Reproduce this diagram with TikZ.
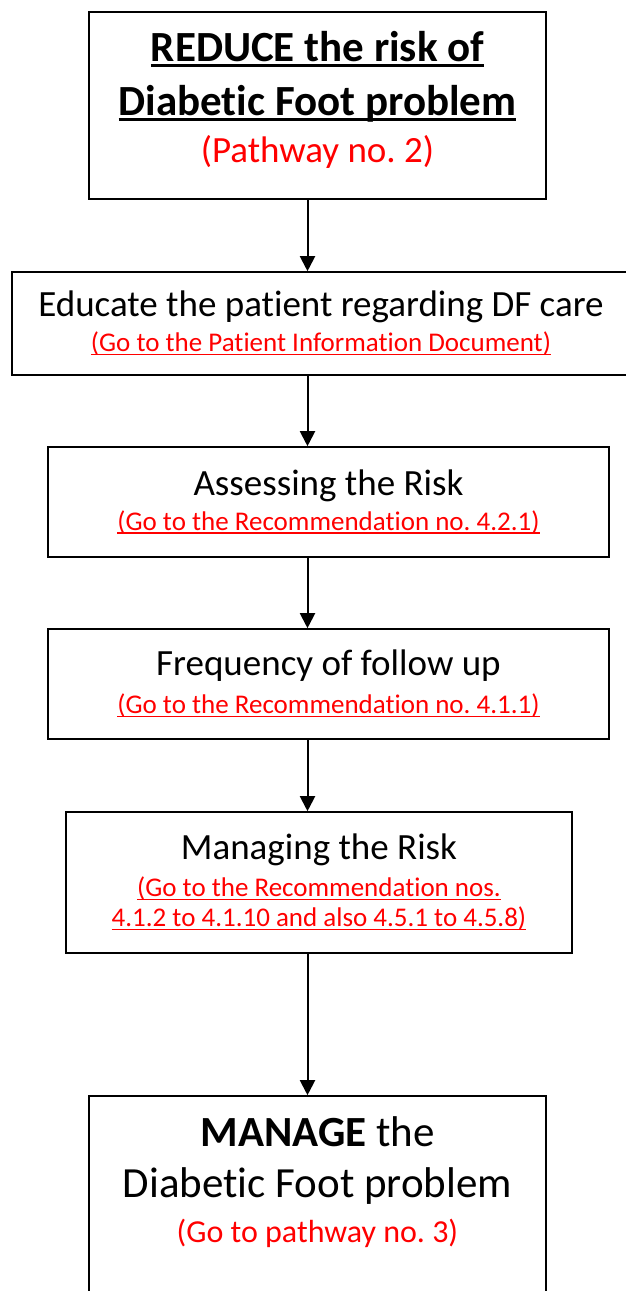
\documentclass[tikz,border=0pt]{standalone}
\usepackage{fontspec}
\setmainfont{Carlito}[Ligatures=NoCommon]
\usetikzlibrary{arrows.meta}

% underline: thickness, depth below baseline, text
\newcommand{\ulbox}[3]{{\setbox0\hbox{#3}\rlap{\rule[-#2]{\wd0}{#1}}\box0}}
\newcommand{\reflink}[1]{{\fontsize{27}{30}\selectfont\color{red}\ulbox{1.8pt}{3.5pt}{#1}}}

\begin{document}
\frenchspacing
\begin{tikzpicture}[x=1pt,y=-1pt]
        \tikzstyle{every path}=[line width=1.6pt]
        \tikzstyle{stepbox} = [draw, rectangle, align=center, inner sep=0pt]
        \tikzstyle{arr} = [-{Triangle[length=15pt,width=15pt]}, line width=2pt]
        \useasboundingbox (0,0) rectangle (625,1291);
        \coordinate (ax) at (307.5,0);
        \node[stepbox, minimum width=457pt, minimum height=187pt,
              font=\fontsize{43}{47}\selectfont](reduce) at (317.5,105.5)
            {\textbf{\ulbox{3pt}{5pt}{REDUCE the risk of}}\\[7pt]
             \textbf{\ulbox{3pt}{5pt}{Diabetic Foot problem}}\\
             {\fontsize{37}{40}\selectfont\color{red}(Pathway no. 2)}\\[-30pt]
             \mbox{}};
        \node[stepbox, minimum width=618pt, minimum height=103pt,
              font=\fontsize{37}{35}\selectfont](educate) at (321,323.5)
            {Educate the patient regarding DF care\\
             \reflink{(Go to the Patient Information Document)}};
        \node[stepbox, minimum width=561pt, minimum height=110pt,
              font=\fontsize{37}{35}\selectfont](assess) at (328.5,502)
            {Assessing the Risk\\
             \reflink{(Go to the Recommendation no. 4.2.1)}};
        \node[stepbox, minimum width=561pt, minimum height=110pt,
              font=\fontsize{37}{38}\selectfont](freq) at (328.5,684)
            {Frequency of follow up\\
             \reflink{(Go to the Recommendation no. 4.1.1)}};
        \node[stepbox, minimum width=506pt, minimum height=141pt,
              font=\fontsize{37}{30}\selectfont](riskmgmt) at (319,882.5)
            {Managing the Risk\\[7pt]
             \reflink{(Go to the Recommendation nos.}\\
             \reflink{4.1.2 to 4.1.10 and also 4.5.1 to 4.5.8)}};
        \node[stepbox, minimum width=457pt, minimum height=204pt,
              font=\fontsize{43}{45}\selectfont](manage) at (317.5,1198)
            {\textbf{MANAGE} the\\[6pt]
             Diabetic Foot problem\\
             {\fontsize{32}{40}\selectfont\color{red}(Go to pathway no. 3)}\\[-9pt]
             \mbox{}};
        \draw[arr] (reduce.south -| ax) -- (educate.north -| ax);
        \draw[arr] (educate.south -| ax) -- (assess.north -| ax);
        \draw[arr] (assess.south -| ax) -- (freq.north -| ax);
        \draw[arr] (freq.south -| ax) -- (riskmgmt.north -| ax);
        \draw[arr] (riskmgmt.south -| ax) -- (manage.north -| ax);
    \end{tikzpicture}
\end{document}
